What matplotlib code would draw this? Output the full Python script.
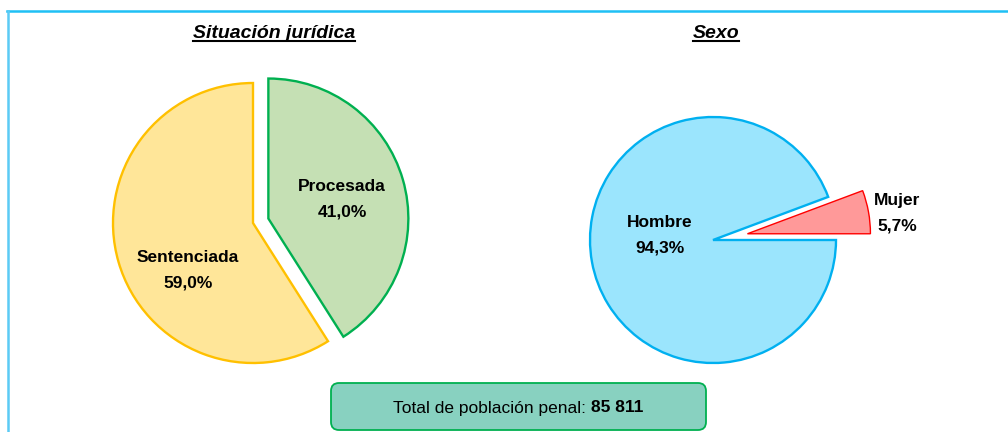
import matplotlib
matplotlib.use('Agg')
import matplotlib.pyplot as plt
from matplotlib import font_manager
from matplotlib.patches import FancyBboxPatch
from matplotlib.lines import Line2D

# data
juridica_labels = ['Procesada', 'Sentenciada']
juridica_values = [41.0, 59.0]
sexo_labels = ['Mujer', 'Hombre']
sexo_values = [5.7, 94.3]
total_poblacion = '85 811'

# pick a narrow font if we have one
names = set(f.name for f in font_manager.fontManager.ttflist)
if 'Liberation Sans Narrow' in names:
    fam = 'Liberation Sans Narrow'
    scale = 1.15
else:
    fam = 'Liberation Sans'
    scale = 1.0
plt.rcParams['font.family'] = [fam, 'DejaVu Sans']

W, H = 1008, 432
fig = plt.figure(figsize=(W / 100, H / 100), dpi=100)
ax = fig.add_axes([0, 0, 1, 1])

def py(y):
    # pixel row (from top) -> data y
    return H - y

# left pie: situacion juridica (explode is in data units here)
ax.pie(juridica_values, colors=['#C5E0B4', '#FFE699'], startangle=90,
       counterclock=False, explode=[16, 0], radius=140, center=(253, py(223)),
       wedgeprops=dict(linewidth=1.7), frame=True)
ax.patches[0].set_edgecolor('#00B050')
ax.patches[1].set_edgecolor('#FFC000')

# right pie: sexo
ax.pie(sexo_values, colors=['#FF9999', '#9BE5FD'], startangle=0,
       counterclock=True, explode=[35, 0], radius=123, center=(713, py(240)),
       wedgeprops=dict(linewidth=1.7), frame=True)
ax.patches[2].set_edgecolor('#FF0000')
ax.patches[2].set_linewidth(1.0)
ax.patches[3].set_edgecolor('#00B0F0')

ax.set_xlim(0, W)
ax.set_ylim(0, H)
ax.set_aspect('auto')
ax.axis('off')

lab = dict(ha='center', va='center', fontsize=12.5 * scale, fontweight='bold',
           linespacing=1.85)
ax.text(342, py(199), 'Procesada\n41,0%', **lab)
ax.text(188, py(270), 'Sentenciada\n59,0%', **lab)
ax.text(660, py(235), 'Hombre\n94,3%', **lab)
ax.text(897, py(213), 'Mujer\n5,7%', **lab)

# titles (underlined)
titles = []
titles.append(ax.text(274, py(33), 'Situación jurídica', ha='center', va='center',
                      fontsize=14 * scale, fontweight='bold', fontstyle='italic'))
titles.append(ax.text(716, py(33), 'Sexo', ha='center', va='center',
                      fontsize=14 * scale, fontweight='bold', fontstyle='italic'))

# total box
box = FancyBboxPatch((331, py(430)), 375, 47, boxstyle='round,pad=0,rounding_size=8',
                     facecolor='#88D1C0', edgecolor='#00B050', linewidth=1.3)
ax.add_patch(box)
t1 = ax.text(0, py(408), 'Total de población penal: ', ha='left', va='center',
             fontsize=12.5 * scale)
t2 = ax.text(0, py(408), total_poblacion, ha='left', va='center',
             fontsize=12.5 * scale, fontweight='bold')

# outer frame
fig.add_artist(Line2D([7 / W, 1], [1 - 10.5 / H, 1 - 10.5 / H], color='#1FC0F5', lw=1.8))
fig.add_artist(Line2D([7.5 / W, 7.5 / W], [0, 1 - 10.5 / H], color='#5BCBF5', lw=1.8))

# position total text and underline titles after measuring
fig.canvas.draw()
r = fig.canvas.get_renderer()
w1 = t1.get_window_extent(r).width
w2 = t2.get_window_extent(r).width
x0 = 518 - (w1 + w2) / 2
t1.set_x(x0)
t2.set_x(x0 + w1)
for t in titles:
    bb = t.get_window_extent(r)
    yl = bb.y0 + 1
    fig.add_artist(Line2D([bb.x0 / W, bb.x1 / W], [yl / H, yl / H], color='black', lw=1.5))

fig.savefig('out.png', dpi=100)
